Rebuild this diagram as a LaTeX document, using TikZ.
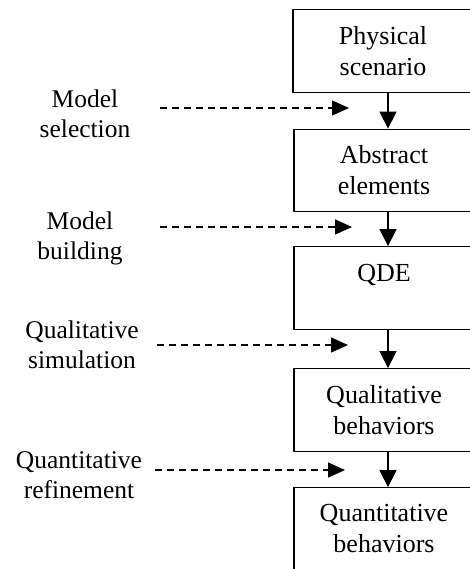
\documentclass[tikz,border=0pt]{standalone}
\usepackage{fontspec}
\setmainfont{Liberation Serif}
\usetikzlibrary{arrows.meta}
\begin{document}
\begin{tikzpicture}[x=1pt,y=-1pt,
  stage/.style={draw,line width=1.3pt,minimum width=180pt,minimum height=82.5pt,
    inner sep=0pt,align=center,font=\fontsize{26}{31}\selectfont},
  lbl/.style={align=center,inner sep=0pt,font=\fontsize{25.5}{30}\selectfont},
  flow/.style={line width=1.4pt,-{Triangle[length=17pt,width=17pt]}},
  hint/.style={line width=1.4pt,dash pattern=on 7pt off 5pt,
    -{Triangle[length=17pt,width=15pt]}}]
\useasboundingbox (0,0) rectangle (470,569);
\clip (0,0) rectangle (470,569);

% process stages
\node[stage] (B1) at (383,51)    {Physical\\scenario};
\node[stage] (B2) at (384,170.5) {Abstract\\elements};
\node[stage] (B3) at (384,288)   {QDE\\~};
\node[stage] (B4) at (384,410)   {Qualitative\\behaviors};
\node[stage] (B5) at (384,529)   {Quantitative\\behaviors};

% flow between stages
\draw[flow] ([xshift=5pt]B1.south) -- ([xshift=4pt]B2.north);
\draw[flow] ([xshift=4pt]B2.south) -- ([xshift=4pt]B3.north);
\draw[flow] ([xshift=4pt]B3.south) -- ([xshift=4pt]B4.north);
\draw[flow] ([xshift=4pt]B4.south) -- ([xshift=4pt]B5.north);

% step labels
\node[lbl] (L1) at (85,114) {Model\\selection};
\node[lbl] (L2) at (80,238) {Model\\building};
\node[lbl] (L3) at (82,345) {Qualitative\\simulation};
\node[lbl] (L4) at (79,475) {Quantitative\\refinement};

% dashed pointers
\coordinate (s1) at (160,108); \coordinate (e1) at (349,108);
\coordinate (s2) at (160,227); \coordinate (e2) at (352,227);
\coordinate (s3) at (157,345); \coordinate (e3) at (348,345);
\coordinate (s4) at (155,470); \coordinate (e4) at (345,470);
\draw[hint] (s1) -- (e1);
\draw[hint] (s2) -- (e2);
\draw[hint] (s3) -- (e3);
\draw[hint] (s4) -- (e4);
\end{tikzpicture}
\end{document}
